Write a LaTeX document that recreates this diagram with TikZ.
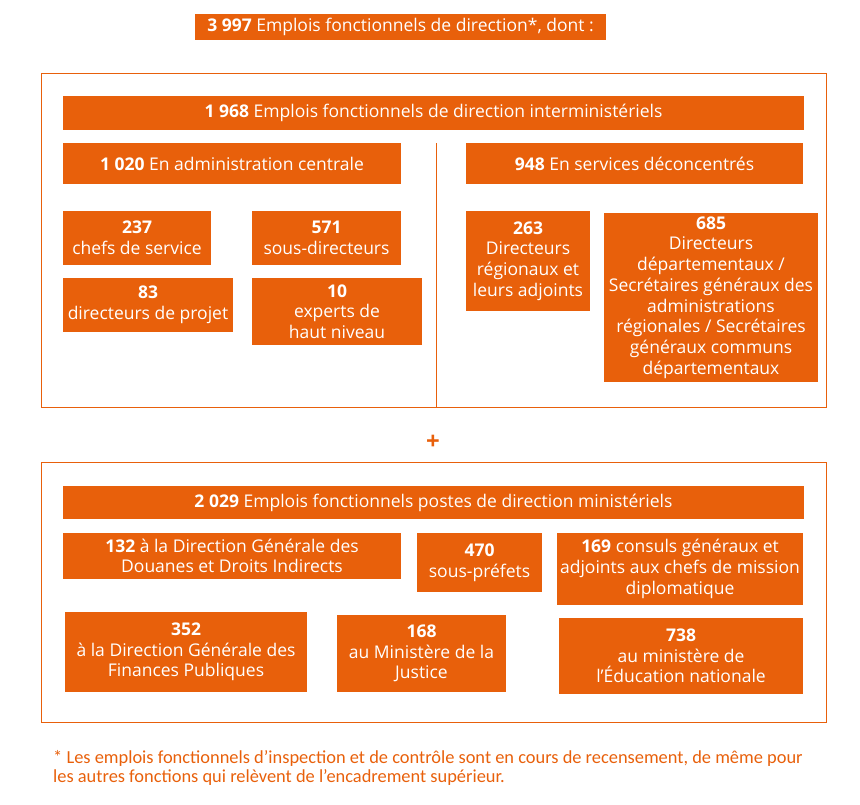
\documentclass[tikz,border=0pt]{standalone}
\usepackage{fontspec}
\setmainfont{Open Sans}
\newfontfamily\notefont{Carlito}
\definecolor{orangeEF}{HTML}{E8600B}
\begin{document}
\begin{tikzpicture}[
x=1pt,y=-1pt,
bloc/.style={fill=orangeEF,text=white,align=center,inner sep=1pt,
  font=\fontsize{17.5}{20.7}\selectfont},
cadre/.style={draw=orangeEF,line width=0.9pt}
]
\useasboundingbox (0,0) rectangle (860,804);
% titre
\node[bloc,minimum width=411,minimum height=26] (total) at (400.5,27)
  {\textbf{3 997} Emplois fonctionnels de direction*, dont :};
% interministeriels
\draw[cadre] (41,73) rectangle (826,407);
\node[bloc,minimum width=741,minimum height=34] (inter) at (433.5,113)
  {\textbf{1 968} Emplois fonctionnels de direction interministériels};
\node[bloc,minimum width=338,minimum height=41] (centrale) at (232,163.5)
  {\textbf{1 020} En administration centrale};
\node[bloc,minimum width=337,minimum height=41] (deconc) at (634.5,163.5)
  {\textbf{948} En services déconcentrés};
\coordinate (sep1) at (436,143);
\coordinate (sep2) at (436,407);
\draw[draw=orangeEF,line width=0.9pt] (sep1) -- (sep2);
\node[bloc,minimum width=148,minimum height=54] (n237) at (137,238)
  {\textbf{237}\\chefs de service};
\node[bloc,minimum width=149,minimum height=54] (n571) at (326.5,238)
  {\textbf{571}\\sous-directeurs};
\node[bloc,minimum width=170,minimum height=54] (n83) at (148,305)
  {\textbf{83}\\directeurs de projet};
\node[bloc,minimum width=170,minimum height=67] (n10) at (337,311.5)
  {\textbf{10}\\experts de\\haut niveau};
\node[bloc,minimum width=124,minimum height=100] (n263) at (528,261)
  {\textbf{263}\\Directeurs\\régionaux et\\leurs adjoints};
\node[bloc,minimum width=214,minimum height=169] (n685) at (711,297.5)
  {\textbf{685}\\Directeurs\\départementaux /\\Secrétaires généraux des\\administrations\\régionales / Secrétaires\\généraux communs\\départementaux};
% plus
\node[text=orangeEF,font=\fontsize{24}{24}\selectfont\bfseries] (plus) at (433,442) {+};
% ministeriels
\draw[cadre] (41,462) rectangle (826,722);
\node[bloc,minimum width=741,minimum height=33] (minist) at (433.5,502.5)
  {\textbf{2 029} Emplois fonctionnels postes de direction ministériels};
\node[bloc,minimum width=338,minimum height=46] (n132) at (232,556)
  {\textbf{132} à la Direction Générale des\\Douanes et Droits Indirects};
\node[bloc,minimum width=125,minimum height=59] (n470) at (479.5,562.5)
  {\textbf{470}\\sous-préfets};
\node[bloc,minimum width=246,minimum height=72] (n169) at (680,569)
  {\textbf{169} consuls généraux et\\adjoints aux chefs de mission\\diplomatique};
\node[bloc,minimum width=242,minimum height=80] (n352) at (186,652)
  {\textbf{352}\\à la Direction Générale des\\Finances Publiques};
\node[bloc,minimum width=169,minimum height=77] (n168) at (421.5,653.5)
  {\textbf{168}\\au Ministère de la\\Justice};
\node[bloc,minimum width=244,minimum height=76] (n738) at (681,656)
  {\textbf{738}\\au ministère de\\l’Éducation nationale};
% note
\node[anchor=north west,text=orangeEF,align=left,inner sep=0pt,
  font=\notefont\fontsize{18.4}{19.5}\selectfont] (note) at (53,750)
  {* Les emplois fonctionnels d’inspection et de contrôle sont en cours de recensement, de même pour\\les autres fonctions qui relèvent de l’encadrement supérieur.};
\end{tikzpicture}
\end{document}
